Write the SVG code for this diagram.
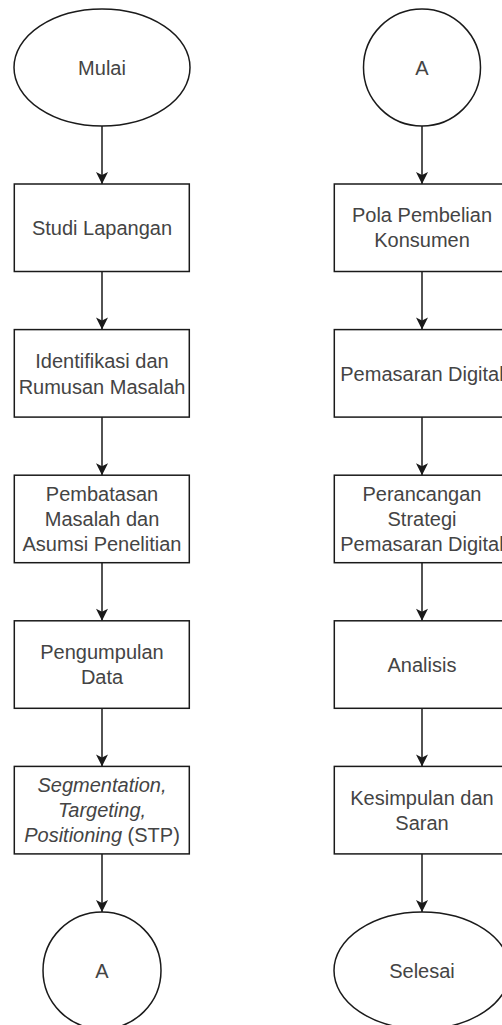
<svg xmlns="http://www.w3.org/2000/svg" width="502" height="1025" viewBox="0 0 502 1025">
<style>
.s{fill:#fff;stroke:#1a1a1a;stroke-width:1.5}
.c{fill:none;stroke:#1a1a1a;stroke-width:1.5}
.t{font-family:"Liberation Sans",Arial,sans-serif;font-size:20px;fill:#444;text-anchor:middle}
.i{font-style:italic}
</style>
<defs>
<marker id="arr" markerUnits="userSpaceOnUse" markerWidth="14" markerHeight="14" viewBox="-13 -7 14 14" refX="0" refY="0" orient="auto">
<path d="M0,0 L-12,-6 L-9,0 L-12,6 Z" fill="#1a1a1a"/>
</marker>
</defs>
<rect width="502" height="1025" fill="#fff"/>
<g id="connectors">
<line class="c" x1="102" y1="126" x2="102" y2="184" marker-end="url(#arr)"/>
<line class="c" x1="102" y1="271.5" x2="102" y2="329.6" marker-end="url(#arr)"/>
<line class="c" x1="102" y1="417.1" x2="102" y2="475.2" marker-end="url(#arr)"/>
<line class="c" x1="102" y1="562.7" x2="102" y2="620.8" marker-end="url(#arr)"/>
<line class="c" x1="102" y1="708.3" x2="102" y2="766.4" marker-end="url(#arr)"/>
<line class="c" x1="102" y1="853.9" x2="102" y2="912" marker-end="url(#arr)"/>
<line class="c" x1="422" y1="126" x2="422" y2="184" marker-end="url(#arr)"/>
<line class="c" x1="422" y1="271.5" x2="422" y2="329.6" marker-end="url(#arr)"/>
<line class="c" x1="422" y1="417.1" x2="422" y2="475.2" marker-end="url(#arr)"/>
<line class="c" x1="422" y1="562.7" x2="422" y2="620.8" marker-end="url(#arr)"/>
<line class="c" x1="422" y1="708.3" x2="422" y2="766.4" marker-end="url(#arr)"/>
<line class="c" x1="422" y1="853.9" x2="422" y2="912" marker-end="url(#arr)"/>
</g>
<g id="mulai"><ellipse class="s" cx="102" cy="67.5" rx="88" ry="58.5"/><text class="t" x="102" y="75">Mulai</text></g>
<g id="studi"><rect class="s" x="14.3" y="184" width="175" height="87.5"/><text class="t" x="102" y="235">Studi Lapangan</text></g>
<g id="identifikasi"><rect class="s" x="14.3" y="329.6" width="175" height="87.5"/><text class="t" x="102" y="368">Identifikasi dan</text><text class="t" x="102" y="393.5">Rumusan Masalah</text></g>
<g id="pembatasan"><rect class="s" x="14.3" y="475.2" width="175" height="87.5"/><text class="t" x="102" y="500.5">Pembatasan</text><text class="t" x="102" y="525.5">Masalah dan</text><text class="t" x="102" y="550.5">Asumsi Penelitian</text></g>
<g id="pengumpulan"><rect class="s" x="14.3" y="620.8" width="175" height="87.5"/><text class="t" x="102" y="659">Pengumpulan</text><text class="t" x="102" y="684">Data</text></g>
<g id="stp"><rect class="s" x="14.3" y="766.4" width="175" height="87.5"/><text class="t" x="102" y="792"><tspan class="i">Segmentation,</tspan></text><text class="t" x="102" y="817"><tspan class="i">Targeting,</tspan></text><text class="t" x="102" y="841.5"><tspan class="i">Positioning</tspan> (STP)</text></g>
<g id="a1"><ellipse class="s" cx="102" cy="970.5" rx="59" ry="58.5"/><text class="t" x="102" y="978">A</text></g>
<g id="a2"><ellipse class="s" cx="422" cy="67.5" rx="58.5" ry="58.5"/><text class="t" x="422" y="75">A</text></g>
<g id="pola"><rect class="s" x="334.3" y="184" width="175" height="87.5"/><text class="t" x="422" y="222">Pola Pembelian</text><text class="t" x="422" y="247">Konsumen</text></g>
<g id="pemasaran"><rect class="s" x="334.3" y="329.6" width="175" height="87.5"/><text class="t" x="422" y="381">Pemasaran Digital</text></g>
<g id="perancangan"><rect class="s" x="334.3" y="475.2" width="175" height="87.5"/><text class="t" x="422" y="500.5">Perancangan</text><text class="t" x="422" y="525.5">Strategi</text><text class="t" x="422" y="550.5">Pemasaran Digital</text></g>
<g id="analisis"><rect class="s" x="334.3" y="620.8" width="175" height="87.5"/><text class="t" x="422" y="672">Analisis</text></g>
<g id="kesimpulan"><rect class="s" x="334.3" y="766.4" width="175" height="87.5"/><text class="t" x="422" y="805">Kesimpulan dan</text><text class="t" x="422" y="830">Saran</text></g>
<g id="selesai"><ellipse class="s" cx="422" cy="970.5" rx="88" ry="58.5"/><text class="t" x="422" y="978">Selesai</text></g>
</svg>
